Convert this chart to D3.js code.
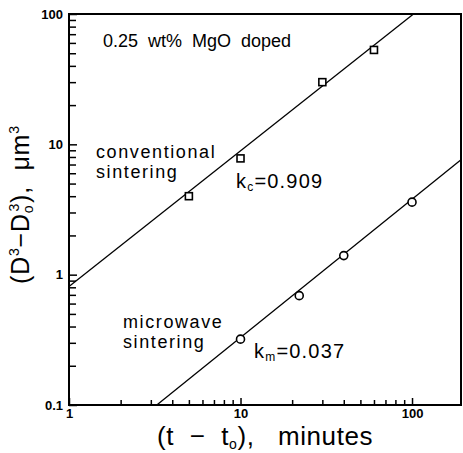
<!DOCTYPE html>
<html>
<head>
<meta charset="utf-8">
<script src="https://cdn.jsdelivr.net/npm/d3@7"></script>
<style>
  body { margin: 0; background: #fff; }
  text { font-family: "Liberation Sans", Arial, sans-serif; fill: #000; }
</style>
</head>
<body>
<svg id="chart" width="463" height="453"></svg>
<script>
// data
const conventionalT = [5, 10, 30, 60];
const conventionalD = [4.0, 7.8, 30, 53];
const microwaveT = [10, 22, 40, 100];
const microwaveD = [0.32, 0.69, 1.4, 3.6];
// fitted lines (end points, data units)
const conventionalFit = [[1, 0.81], [102, 100]];
const microwaveFit = [[3.25, 0.1], [193, 7.6]];
const xTicks = [1, 10, 100];
const yTicks = [0.1, 1, 10, 100];
const xLabels = ["1", "10", "100"];
const yLabels = ["0.1", "1", "10", "100"];

const margin = { top: 14, right: 2, bottom: 48, left: 69 };
const width = 463, height = 453;
const svg = d3.select("#chart");

const x = d3.scaleLog().domain([1, 193]).range([margin.left, width - margin.right]);
const y = d3.scaleLog().domain([0.1, 100]).range([height - margin.bottom, margin.top]);

// minor ticks
const minorX = [], minorY = [];
[1, 10, 100].forEach(d => { for (let i = 2; i <= 9; i++) if (d * i <= 193) minorX.push(d * i); });
[0.1, 1, 10].forEach(d => { for (let i = 2; i <= 9; i++) minorY.push(d * i); });

const bottom = height - margin.bottom;

svg.append("g")
    .attr("transform", "translate(0," + bottom + ")")
    .call(d3.axisBottom(x).tickValues(minorX).tickSize(-5).tickFormat(""))
    .call(g => g.select(".domain").remove());
svg.append("g")
    .attr("transform", "translate(0," + bottom + ")")
    .call(d3.axisBottom(x).tickValues(xTicks).tickSize(-7).tickPadding(4)
        .tickFormat((d, i) => xLabels[i]))
    .call(g => g.select(".domain").remove())
    .selectAll("text")
    .attr("font-size", 13).attr("font-weight", "bold")
    .attr("font-family", "Liberation Sans, Arial, sans-serif");

svg.append("g")
    .attr("transform", "translate(" + margin.left + ",0)")
    .call(d3.axisLeft(y).tickValues(minorY).tickSize(-7).tickFormat(""))
    .call(g => g.select(".domain").remove());
svg.append("g")
    .attr("transform", "translate(" + margin.left + ",0)")
    .call(d3.axisLeft(y).tickValues(yTicks).tickSize(-8).tickPadding(6)
        .tickFormat((d, i) => yLabels[i]))
    .call(g => g.select(".domain").remove())
    .selectAll("text")
    .attr("font-size", 13).attr("font-weight", "bold")
    .attr("font-family", "Liberation Sans, Arial, sans-serif");

svg.selectAll(".tick line").attr("stroke", "#000").attr("stroke-width", 1.5);

// frame
svg.append("rect")
    .attr("x", margin.left).attr("y", margin.top)
    .attr("width", width - margin.right - margin.left)
    .attr("height", bottom - margin.top)
    .attr("fill", "none").attr("stroke", "#000").attr("stroke-width", 2);

const line = d3.line().x(d => x(d[0])).y(d => y(d[1]));
[conventionalFit, microwaveFit].forEach(f => {
    svg.append("path").datum(f).attr("d", line)
        .attr("fill", "none").attr("stroke", "#000").attr("stroke-width", 1.3);
});

// squares
svg.selectAll(".sq").data(d3.zip(conventionalT, conventionalD)).enter()
    .append("rect")
    .attr("x", d => x(d[0]) - 3.5).attr("y", d => y(d[1]) - 3.5)
    .attr("width", 7).attr("height", 7)
    .attr("fill", "#fff").attr("stroke", "#000").attr("stroke-width", 1.6);

// circles
svg.selectAll(".ci").data(d3.zip(microwaveT, microwaveD)).enter()
    .append("circle")
    .attr("cx", d => x(d[0])).attr("cy", d => y(d[1]))
    .attr("r", 4)
    .attr("fill", "#fff").attr("stroke", "#000").attr("stroke-width", 1.6);

// annotations
function label(tx, ty, str, size) {
    return svg.append("text").attr("x", tx).attr("y", ty)
        .attr("font-size", size || 18).attr("xml:space", "preserve").text(str);
}
label(103, 47, "0.25  wt%  MgO  doped");
label(96, 158, "conventional").attr("letter-spacing", 1.6);
label(96, 178, "sintering").attr("letter-spacing", 1.6);
label(123, 328, "microwave").attr("letter-spacing", 1.6);
label(123, 348, "sintering").attr("letter-spacing", 1.6);

const kc = svg.append("text").attr("x", 236).attr("y", 188).attr("font-size", 20)
    .attr("letter-spacing", 1.2);
kc.append("tspan").text("k");
kc.append("tspan").attr("font-size", 12).attr("dy", 3).text("c");
kc.append("tspan").attr("dy", -3).text("=0.909");

const km = svg.append("text").attr("x", 254).attr("y", 358).attr("font-size", 20)
    .attr("letter-spacing", 1.2);
km.append("tspan").text("k");
km.append("tspan").attr("font-size", 12).attr("dy", 3).text("m");
km.append("tspan").attr("dy", -3).text("=0.037");

// x title
const xt = svg.append("text").attr("x", 157).attr("y", 445).attr("font-size", 26)
    .attr("letter-spacing", 0.6).attr("xml:space", "preserve");
xt.append("tspan").text("(t  \u2212  t");
xt.append("tspan").attr("font-size", 14).attr("dy", 4).text("o");
xt.append("tspan").attr("dy", -4).text("),   minutes");

// y title
const yt = svg.append("text")
    .attr("transform", "translate(29,284) rotate(-90)")
    .attr("font-size", 25).attr("letter-spacing", 0.8).attr("xml:space", "preserve");
yt.append("tspan").text("(D");
yt.append("tspan").attr("font-size", 14).attr("dy", -10).text("3");
yt.append("tspan").attr("dy", 10).text("\u2212D");
yt.append("tspan").attr("font-size", 14).attr("dy", 4).text("o");
yt.append("tspan").attr("font-size", 14).attr("dx", -7).attr("dy", -14).text("3");
yt.append("tspan").attr("dy", 10).text("),  \u03bcm");
yt.append("tspan").attr("font-size", 14).attr("dy", -10).text("3");
</script>
</body>
</html>
